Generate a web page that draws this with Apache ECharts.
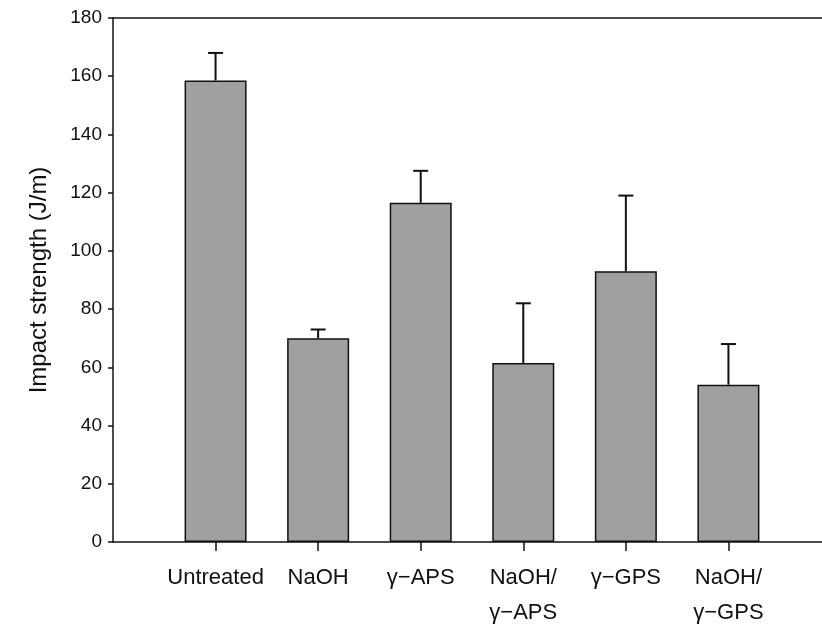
<!DOCTYPE html>
<html>
<head>
<meta charset="utf-8">
<script src="https://cdn.jsdelivr.net/npm/echarts@6/dist/echarts.min.js"></script>
<style>html,body{margin:0;padding:0;background:#fff}#c{width:822px;height:624px}</style>
</head>
<body>
<div id="c"></div>
<script>
var categories = ['Untreated', 'NaOH', 'γ−APS', 'NaOH/\nγ−APS', 'γ−GPS', 'NaOH/\nγ−GPS'];
var impactMean = [158.5, 70, 116.5, 61.5, 93, 54];
var impactUpper = [168, 73, 127.5, 82, 119, 68];
var yTicks = [0, 20, 40, 60, 80, 100, 120, 140, 160, 180];

var axisCats = [''].concat(categories).concat(['']);
var barData = ['-'].concat(impactMean).concat(['-']);
var errData = impactMean.map(function (v, i) { return [i + 1, v, impactUpper[i]]; });

var chart = echarts.init(document.getElementById('c'));
var font = 'Liberation Sans, Arial, sans-serif';
chart.setOption({
  animation: false,
  grid: { left: 113, top: 18, bottom: 82, right: -9, outerBoundsMode: 'none', containLabel: false, show: false },
  xAxis: [{
    type: 'category', data: axisCats, boundaryGap: false,
    axisLine: { lineStyle: { color: '#111', width: 1.5 } },
    axisTick: { length: 9, lineStyle: { color: '#111', width: 1.5 }, interval: function (i, v) { return v !== ''; } },
    axisLabel: { interval: 0, color: '#111', fontSize: 22, fontFamily: font, margin: 18, lineHeight: 35, align: 'center' },
    splitLine: { show: false }
  }, {
    type: 'category', data: axisCats, boundaryGap: false, position: 'top',
    axisLine: { show: true, onZero: false, lineStyle: { color: '#111', width: 1.5 } },
    axisTick: { show: false }, axisLabel: { show: false }, splitLine: { show: false }
  }],
  yAxis: {
    type: 'value', min: yTicks[0], max: yTicks[yTicks.length - 1], interval: 20,
    name: 'Impact strength (J/m)', nameLocation: 'middle', nameGap: 62, nameRotate: 90,
    nameTextStyle: { fontSize: 24, fontFamily: font, color: '#111' },
    axisLine: { show: true, lineStyle: { color: '#111', width: 1.5 } },
    axisTick: { show: true, length: 5, lineStyle: { color: '#111', width: 1.5 } },
    axisLabel: { color: '#111', fontSize: 19, fontFamily: font, margin: 11 },
    splitLine: { show: false }
  },
  series: [
    {
      type: 'bar', data: barData, barWidth: 62,
      itemStyle: { color: '#a0a0a0', borderColor: '#111', borderWidth: 1.5 }
    },
    {
      type: 'custom', data: errData, encode: { x: 0, y: [1, 2] }, z: 3,
      renderItem: function (params, api) {
        var x = api.value(0);
        var p0 = api.coord([x, api.value(1)]);
        var p1 = api.coord([x, api.value(2)]);
        var half = 7.5;
        var st = { stroke: '#111', lineWidth: 2 };
        return { type: 'group', children: [
          { type: 'line', shape: { x1: p0[0], y1: p0[1], x2: p1[0], y2: p1[1] }, style: st },
          { type: 'line', shape: { x1: p1[0] - half, y1: p1[1], x2: p1[0] + half, y2: p1[1] }, style: st }
        ] };
      }
    }
  ]
});
</script>
</body>
</html>
